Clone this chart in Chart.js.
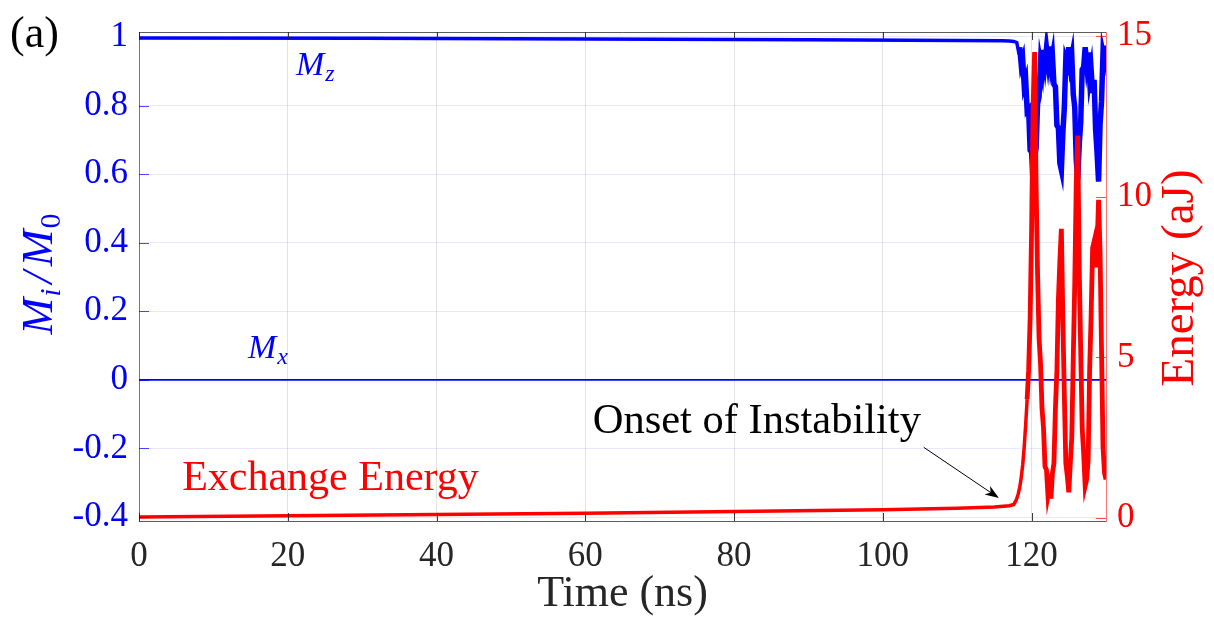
<!DOCTYPE html>
<html>
<head>
<meta charset="utf-8">
<script src="https://cdn.jsdelivr.net/npm/chart.js@4.4.1/dist/chart.umd.min.js"></script>
<style>
  html, body { margin: 0; padding: 0; background: #ffffff; }
  canvas { display: block; }
</style>
</head>
<body>
<canvas id="chart" width="1214" height="627"></canvas>
<script>
const SERIF = "'Liberation Serif'";

const COLORS = {
  mag: '#0000ff',
  energy: '#ff0000',
  axis: '#262626',
  gridX: 'rgba(38, 38, 38, 0.13)',
  gridY: 'rgba(0, 0, 255, 0.09)'
};

// axis ticks
const xTicks = [0, 20, 40, 60, 80, 100, 120];
const yLeftTicks = [-0.4, -0.2, 0, 0.2, 0.4, 0.6, 0.8, 1];
const yLeftTickLabels = ['-0.4', '-0.2', '0', '0.2', '0.4', '0.6', '0.8', '1'];
const yRightTicks = [0, 5, 10, 15];
const yRightTickLabels = ['0', '5', '10', '15'];

// M_z / M_0 (fast ripple included)
const mzTime = [
  0, 30, 60, 90, 110, 116, 117, 117.6,
  118.0, 118.2, 118.4, 118.6, 118.8, 119.0, 119.2, 119.4, 119.6, 119.8,
  120.0, 120.2, 120.4, 120.6, 120.8, 121.0, 121.2, 121.4, 121.6, 121.8,
  122.0, 122.2, 122.4, 122.6, 122.8, 123.0, 123.2, 123.4, 123.6, 123.8,
  124.0, 124.2, 124.4, 124.6, 124.8, 125.0, 125.2, 125.4, 125.6, 125.8,
  126.0, 126.2, 126.4, 126.6, 126.8, 127.0, 127.2, 127.4, 127.6, 127.8,
  128.0, 128.2, 128.4, 128.6, 128.8, 129.0, 129.2, 129.4, 129.6, 129.8,
  130.0
];
const mzValues = [
  0.997, 0.996, 0.994, 0.992, 0.990, 0.989, 0.988, 0.987,
  0.984, 0.962, 0.970, 0.920, 0.935, 0.860, 0.875, 0.785, 0.790, 0.670,
  0.665, 0.570, 0.650, 0.675, 0.805, 0.825, 0.925, 0.900, 0.962, 0.925,
  0.968, 0.930, 0.972, 0.920, 0.945, 0.862, 0.855, 0.742, 0.735, 0.632,
  0.612, 0.720, 0.795, 0.935, 0.922, 0.970, 0.922, 0.945, 0.832, 0.795,
  0.642, 0.585, 0.685, 0.752, 0.905, 0.912, 0.970, 0.922, 0.955, 0.877,
  0.905, 0.837, 0.875, 0.732, 0.662, 0.578, 0.745, 0.812, 0.955, 0.935,
  0.975
];

// M_x / M_0
const mxTime = [0, 130];
const mxValues = [0, 0];

// exchange energy in aJ
const energyTime = [
  0, 20, 40, 60, 80, 100, 110, 115, 117,
  117.6, 117.8, 118.0, 118.2, 118.4, 118.6, 118.8, 119.0, 119.2, 119.4,
  119.6, 119.8, 120.0, 120.2, 120.4, 120.6, 120.8, 121.0, 121.2, 121.4,
  121.6, 121.8, 122.0, 122.2, 122.4, 122.6, 122.8, 123.0, 123.2, 123.4,
  123.6, 123.8, 124.0, 124.2, 124.4, 124.6, 124.8, 125.0, 125.2, 125.4,
  125.6, 125.8, 126.0, 126.2, 126.4, 126.6, 126.8, 127.0, 127.2, 127.4,
  127.6, 127.8, 128.0, 128.2, 128.4, 128.6, 128.8, 129.0, 129.2, 129.4,
  129.6, 129.8, 130.0
];
const energyValues = [
  0.03, 0.07, 0.11, 0.15, 0.20, 0.26, 0.30, 0.34, 0.38,
  0.42, 0.50, 0.60, 0.75, 0.95, 1.25, 1.65, 2.20, 2.90, 3.70,
  4.60, 6.20, 9.00, 12.8, 14.5, 10.4, 7.6, 5.6, 4.8, 3.4,
  2.8, 1.6, 1.5, 0.7, 0.95, 0.6, 1.4, 1.7, 3.4, 4.6,
  6.8, 8.0, 9.0, 6.2, 3.8, 1.7, 1.3, 0.8, 1.7, 2.5,
  5.0, 7.3, 10.4, 11.9, 7.8, 5.2, 2.8, 2.0, 1.0, 1.2,
  1.8, 4.6, 6.3, 8.4, 8.6, 7.8, 8.4, 9.9, 8.3, 5.2,
  2.2, 1.4, 1.2
];

function toPoints(times, values) {
  return times.map((t, i) => ({ x: t, y: values[i] }));
}

function drawRuns(ctx, runs, x, y) {
  // runs: [{ text, font, dy, gap }], drawn left to right from x on baseline y
  let cursor = x;
  runs.forEach((run) => {
    ctx.font = run.font;
    ctx.fillText(run.text, cursor, y + (run.dy || 0));
    cursor += ctx.measureText(run.text).width + (run.gap || 0);
  });
  return cursor - x;
}

function runsWidth(ctx, runs) {
  let w = 0;
  runs.forEach((run) => {
    ctx.font = run.font;
    w += ctx.measureText(run.text).width + (run.gap || 0);
  });
  return w;
}

const overlayPlugin = {
  id: 'overlay',
  afterDatasetsDraw(chart) {
    const { ctx, chartArea: a, scales } = chart;
    ctx.save();
    ctx.lineWidth = 1;

    // inward tick marks, MATLAB style
    ctx.strokeStyle = 'rgba(38, 38, 38, 0.9)';
    ctx.beginPath();
    xTicks.forEach((v) => {
      const px = Math.round(scales.x.getPixelForValue(v)) + 0.5;
      ctx.moveTo(px, a.bottom);
      ctx.lineTo(px, a.bottom - 8);
      ctx.moveTo(px, a.top);
      ctx.lineTo(px, a.top + 8);
    });
    ctx.stroke();

    ctx.strokeStyle = 'rgba(0, 0, 255, 0.7)';
    ctx.beginPath();
    yLeftTicks.forEach((v) => {
      const py = Math.round(scales.yM.getPixelForValue(v)) + 0.5;
      ctx.moveTo(a.left, py);
      ctx.lineTo(a.left + 10, py);
    });
    ctx.stroke();

    ctx.strokeStyle = 'rgba(255, 0, 0, 0.7)';
    ctx.beginPath();
    yRightTicks.forEach((v) => {
      const py = Math.round(scales.yEnergy.getPixelForValue(v)) + 0.5;
      ctx.moveTo(a.right, py);
      ctx.lineTo(a.right - 10, py);
    });
    ctx.stroke();

    // box
    ctx.strokeStyle = 'rgba(38, 38, 38, 0.75)';
    ctx.beginPath();
    ctx.moveTo(a.left, a.top + 0.5);
    ctx.lineTo(a.right, a.top + 0.5);
    ctx.moveTo(a.left, a.bottom + 0.5);
    ctx.lineTo(a.right, a.bottom + 0.5);
    ctx.stroke();
    ctx.strokeStyle = 'rgba(0, 0, 255, 0.55)';
    ctx.beginPath();
    ctx.moveTo(a.left + 0.5, a.top);
    ctx.lineTo(a.left + 0.5, a.bottom + 1);
    ctx.stroke();
    ctx.strokeStyle = 'rgba(255, 0, 0, 0.55)';
    ctx.beginPath();
    ctx.moveTo(a.right + 0.5, a.top);
    ctx.lineTo(a.right + 0.5, a.bottom + 1);
    ctx.stroke();
    ctx.restore();
  },
  afterDraw(chart) {
    const { ctx, scales } = chart;
    const x = scales.x;
    const yM = scales.yM;
    const yE = scales.yEnergy;
    ctx.save();
    ctx.textAlign = 'left';
    ctx.textBaseline = 'alphabetic';

    // panel tag
    ctx.fillStyle = '#000000';
    ctx.font = `44px ${SERIF}`;
    ctx.fillText('(a)', 10, 47);

    // curve labels
    ctx.fillStyle = COLORS.mag;
    drawRuns(ctx, [
      { text: 'M', font: `italic 34px ${SERIF}`, gap: 1 },
      { text: 'z', font: `italic 24px ${SERIF}`, dy: 6 }
    ], x.getPixelForValue(21.1), yM.getPixelForValue(0.89));
    drawRuns(ctx, [
      { text: 'M', font: `italic 34px ${SERIF}`, gap: 1 },
      { text: 'x', font: `italic 24px ${SERIF}`, dy: 6 }
    ], x.getPixelForValue(14.65), yM.getPixelForValue(0.064));

    ctx.fillStyle = COLORS.energy;
    ctx.font = `42px ${SERIF}`;
    ctx.fillText('Exchange Energy', x.getPixelForValue(5.8), yE.getPixelForValue(0.87));

    ctx.fillStyle = '#000000';
    ctx.font = `42.5px ${SERIF}`;
    ctx.fillText('Onset of Instability', x.getPixelForValue(61.0), yE.getPixelForValue(2.63));

    // arrow to the onset
    const ax0 = x.getPixelForValue(105.5);
    const ay0 = yE.getPixelForValue(2.2);
    const ax1 = x.getPixelForValue(115.6);
    const ay1 = yE.getPixelForValue(0.62);
    const ang = Math.atan2(ay1 - ay0, ax1 - ax0);
    ctx.strokeStyle = '#000000';
    ctx.lineWidth = 1;
    ctx.beginPath();
    ctx.moveTo(ax0, ay0);
    ctx.lineTo(ax1 - 8 * Math.cos(ang), ay1 - 8 * Math.sin(ang));
    ctx.stroke();
    ctx.beginPath();
    ctx.moveTo(ax1, ay1);
    ctx.lineTo(ax1 - 14 * Math.cos(ang) + 5 * Math.sin(ang), ay1 - 14 * Math.sin(ang) - 5 * Math.cos(ang));
    ctx.lineTo(ax1 - 10 * Math.cos(ang), ay1 - 10 * Math.sin(ang));
    ctx.lineTo(ax1 - 14 * Math.cos(ang) - 5 * Math.sin(ang), ay1 - 14 * Math.sin(ang) + 5 * Math.cos(ang));
    ctx.closePath();
    ctx.fillStyle = '#000000';
    ctx.fill();

    // left axis title M_i / M_0, reading bottom to top
    const leftRuns = [
      { text: 'M', font: `italic 44px ${SERIF}`, gap: 1 },
      { text: 'i', font: `italic 30px ${SERIF}`, dy: 8, gap: 5 },
      { text: '/', font: `italic 44px ${SERIF}`, gap: 5 },
      { text: 'M', font: `italic 44px ${SERIF}`, gap: 1 },
      { text: '0', font: `30px ${SERIF}`, dy: 8 }
    ];
    ctx.fillStyle = COLORS.mag;
    ctx.save();
    ctx.translate(52, 274);
    ctx.rotate(-Math.PI / 2);
    drawRuns(ctx, leftRuns, -runsWidth(ctx, leftRuns) / 2, 0);
    ctx.restore();

    // right axis title
    ctx.fillStyle = COLORS.energy;
    ctx.save();
    ctx.translate(1193, 278);
    ctx.rotate(-Math.PI / 2);
    ctx.font = `47px ${SERIF}`;
    ctx.textAlign = 'center';
    ctx.fillText('Energy (aJ)', 0, 0);
    ctx.restore();

    ctx.restore();
  }
};

const tickFont = { family: SERIF, size: 35 };

new Chart(document.getElementById('chart').getContext('2d'), {
  type: 'line',
  data: {
    datasets: [
      {
        label: 'Exchange Energy',
        data: toPoints(energyTime, energyValues),
        yAxisID: 'yEnergy',
        borderColor: COLORS.energy,
        borderWidth: 3.5,
        segment: { borderWidth: (c) => (c.p0.parsed.x >= 119.4 ? 4.8 : 3.5) },
        pointRadius: 0,
        tension: 0
      },
      {
        label: 'Mz',
        data: toPoints(mzTime, mzValues),
        yAxisID: 'yM',
        borderColor: COLORS.mag,
        borderWidth: 3.5,
        segment: { borderWidth: (c) => (c.p0.parsed.x >= 118.4 ? 5.5 : 3.5) },
        pointRadius: 0,
        tension: 0
      },
      {
        label: 'Mx',
        data: toPoints(mxTime, mxValues),
        yAxisID: 'yM',
        borderColor: COLORS.mag,
        borderWidth: 1.8,
        pointRadius: 0,
        tension: 0
      }
    ]
  },
  options: {
    responsive: false,
    animation: false,
    devicePixelRatio: 1,
    layout: { padding: { top: 29, left: 0, right: 0, bottom: 0 } },
    plugins: {
      legend: { display: false },
      tooltip: { enabled: false }
    },
    scales: {
      x: {
        type: 'linear',
        position: 'bottom',
        min: 0,
        max: 130,
        afterBuildTicks: (scale) => { scale.ticks = xTicks.map((v) => ({ value: v })); },
        afterFit: (scale) => { scale.height = 106; },
        ticks: {
          color: COLORS.axis,
          font: tickFont,
          padding: 15,
          maxRotation: 0,
          autoSkip: false,
          callback: (value) => String(value)
        },
        grid: { color: COLORS.gridX, drawTicks: false },
        border: { display: false },
        title: {
          display: true,
          text: 'Time (ns)',
          color: COLORS.axis,
          font: { family: SERIF, size: 44 },
          padding: { top: 0, bottom: 6 }
        }
      },
      yM: {
        type: 'linear',
        position: 'left',
        min: -0.4116,
        max: 1.0145,
        afterBuildTicks: (scale) => { scale.ticks = yLeftTicks.map((v) => ({ value: v })); },
        afterFit: (scale) => { scale.width = 139; },
        ticks: {
          color: COLORS.mag,
          font: tickFont,
          padding: 11,
          callback: (value) => yLeftTickLabels[yLeftTicks.findIndex((v) => Math.abs(v - value) < 1e-9)]
        },
        grid: { color: COLORS.gridY, drawTicks: false },
        border: { display: false }
      },
      yEnergy: {
        type: 'linear',
        position: 'right',
        min: -0.093,
        max: 15.124,
        afterBuildTicks: (scale) => { scale.ticks = yRightTicks.map((v) => ({ value: v })); },
        afterFit: (scale) => { scale.width = 108; },
        ticks: {
          color: COLORS.energy,
          font: tickFont,
          padding: 11,
          callback: (value) => yRightTickLabels[yRightTicks.indexOf(value)]
        },
        grid: { drawOnChartArea: false, drawTicks: false },
        border: { display: false }
      }
    }
  },
  plugins: [overlayPlugin]
});
</script>
</body>
</html>
